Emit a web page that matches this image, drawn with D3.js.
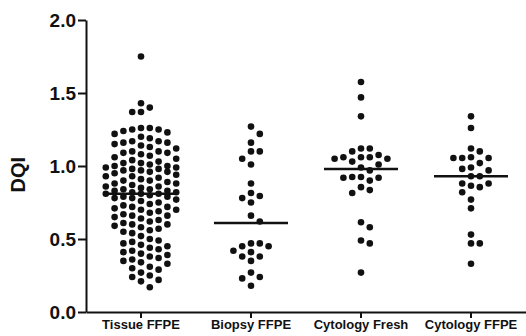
<!DOCTYPE html>
<html>
<head>
<meta charset="utf-8">
<script src="https://cdn.jsdelivr.net/npm/d3@7"></script>
<style>
  body { margin: 0; background: #fff; }
  svg { display: block; }
  text { font-family: Arial, "Liberation Sans", sans-serif; font-weight: bold; }
</style>
</head>
<body>
<div id="chart"></div>
<script>
// groups on the x axis
const categories = ["Tissue FFPE", "Biopsy FFPE", "Cytology Fresh", "Cytology FFPE"];

// DQI values, one array per group
const tissueFFPE = [
  1.75, 1.43, 1.40, 1.37, 1.37,
  1.26, 1.26, 1.25, 1.25, 1.24, 1.23, 1.22, 1.20, 1.19,
  1.17, 1.17, 1.16, 1.16, 1.15, 1.14, 1.13, 1.12,
  1.10, 1.10, 1.09, 1.09, 1.08, 1.07, 1.06, 1.05, 1.04,
  1.03, 1.02, 1.02, 1.01, 1.00, 1.00, 0.99, 0.99, 0.98, 0.98, 0.97,
  0.97, 0.96, 0.96, 0.95, 0.94, 0.93, 0.93, 0.92, 0.91,
  0.90, 0.90, 0.89, 0.88, 0.88, 0.87, 0.86, 0.86, 0.85,
  0.84, 0.84, 0.83, 0.83, 0.82, 0.82, 0.81, 0.81, 0.81, 0.80,
  0.79, 0.79, 0.78, 0.78, 0.77, 0.76, 0.75, 0.74,
  0.73, 0.72, 0.72, 0.71, 0.70, 0.70, 0.69, 0.68,
  0.67, 0.66, 0.66, 0.65, 0.64, 0.63, 0.62,
  0.61, 0.60, 0.60, 0.59, 0.58, 0.57, 0.56, 0.55, 0.54,
  0.52, 0.50, 0.49, 0.48,
  0.47, 0.46, 0.45, 0.44, 0.43, 0.42, 0.41, 0.40,
  0.39, 0.38, 0.37, 0.36, 0.35, 0.34, 0.33,
  0.31, 0.30, 0.29, 0.27,
  0.25, 0.24, 0.22, 0.21, 0.17
];
const biopsyFFPE = [
  1.27, 1.22, 1.16, 1.10, 1.10, 1.05, 1.01, 0.88, 0.815, 0.795, 0.78, 0.75,
  0.66, 0.62, 0.47, 0.45, 0.42, 0.45, 0.47, 0.38, 0.35, 0.38, 0.41,
  0.24, 0.27, 0.23, 0.18
];
const cytologyFresh = [
  1.575, 1.47, 1.34, 1.10, 1.12, 1.12, 1.06, 1.06, 1.05, 1.05, 1.06, 1.075,
  1.03, 1.01, 0.99, 0.97, 0.925, 0.92, 0.90, 0.92, 0.925, 0.835, 0.815, 0.855,
  0.58, 0.615, 0.49, 0.47, 0.27
];
const cytologyFFPE = [
  1.34, 1.26, 1.12, 1.10, 1.055, 1.055, 1.055, 1.06, 1.02, 0.99, 0.97, 0.98,
  0.93, 0.93, 0.88, 0.855, 0.865, 0.88, 0.82, 0.77, 0.71, 0.53, 0.47, 0.47, 0.33
];

// median bars as drawn
const medians = [0.81, 0.61, 0.98, 0.93];

const yTicks = [0, 0.5, 1.0, 1.5, 2.0];

const groups = [tissueFFPE, biopsyFFPE, cytologyFresh, cytologyFFPE];

const W = 526, H = 336;
const margin = { top: 20, right: 0, bottom: 24, left: 86 };
const r = 3.3;

const svg = d3.select("#chart").append("svg")
  .attr("width", W)
  .attr("height", H);

const x = d3.scaleBand()
  .domain(categories)
  .range([margin.left, W - margin.right]);

const y = d3.scaleLinear()
  .domain([0, 2])
  .range([H - margin.bottom, margin.top]);

// y axis
const yAxis = svg.append("g")
  .attr("transform", "translate(" + margin.left + ",0)")
  .call(d3.axisLeft(y).tickValues(yTicks).tickFormat(d3.format(".1f")).tickSize(8).tickSizeOuter(0));
yAxis.attr("font-family", null).attr("font-size", null);
yAxis.select(".domain").attr("stroke", "#111").attr("stroke-width", 2);
yAxis.selectAll(".tick line").attr("stroke", "#111").attr("stroke-width", 2);
yAxis.selectAll(".tick text")
  .attr("x", -10)
  .attr("dy", "0.36em")
  .attr("fill", "#111")
  .style("font-size", "19px");

// x axis
const xAxis = svg.append("g")
  .attr("transform", "translate(0," + (H - margin.bottom) + ")")
  .call(d3.axisBottom(x).tickSize(6).tickSizeOuter(0));
xAxis.attr("font-family", null).attr("font-size", null);
xAxis.select(".domain").attr("stroke", "#111").attr("stroke-width", 2);
xAxis.selectAll(".tick line").attr("stroke", "#111").attr("stroke-width", 2);
xAxis.selectAll(".tick text")
  .attr("y", 8)
  .attr("fill", "#111")
  .style("font-size", "13px");

// y label
svg.append("text")
  .attr("transform", "translate(25," + y(0.94) + ") rotate(-90)")
  .attr("text-anchor", "middle")
  .attr("fill", "#111")
  .style("font-size", "20px")
  .text("DQI");

// column scatter: place each dot in the nearest free slot, limited width
function swarm(values, cx) {
  const step = 2 * r + 2.2;
  const maxK = 8; // four slots each side
  const placed = [];
  const sorted = values.slice().sort((a, b) => b - a);
  sorted.forEach(v => {
    const py = y(v);
    let best = null, bestD = -1;
    for (let k = 0; k <= maxK; k++) {
      const off = k === 0 ? 0 : (k % 2 ? 1 : -1) * Math.ceil(k / 2) * step;
      const px = cx + off;
      const dmin = placed.reduce((m, p) => Math.min(m, Math.hypot(p.x - px, p.y - py)), Infinity);
      if (dmin >= 2 * r + 1) { best = px; break; }
      if (dmin > bestD) { bestD = dmin; best = px; }
    }
    placed.push({ x: best, y: py });
  });
  return placed;
}

groups.forEach((vals, i) => {
  const cx = x(categories[i]) + x.bandwidth() / 2;
  svg.append("g")
    .selectAll("circle")
    .data(swarm(vals, cx))
    .enter().append("circle")
    .attr("cx", d => d.x)
    .attr("cy", d => d.y)
    .attr("r", r)
    .attr("fill", "#111");

  svg.append("line")
    .attr("x1", cx - 37)
    .attr("x2", cx + 37)
    .attr("y1", y(medians[i]))
    .attr("y2", y(medians[i]))
    .attr("stroke", "#111")
    .attr("stroke-width", 2.5);
});
</script>
</body>
</html>
